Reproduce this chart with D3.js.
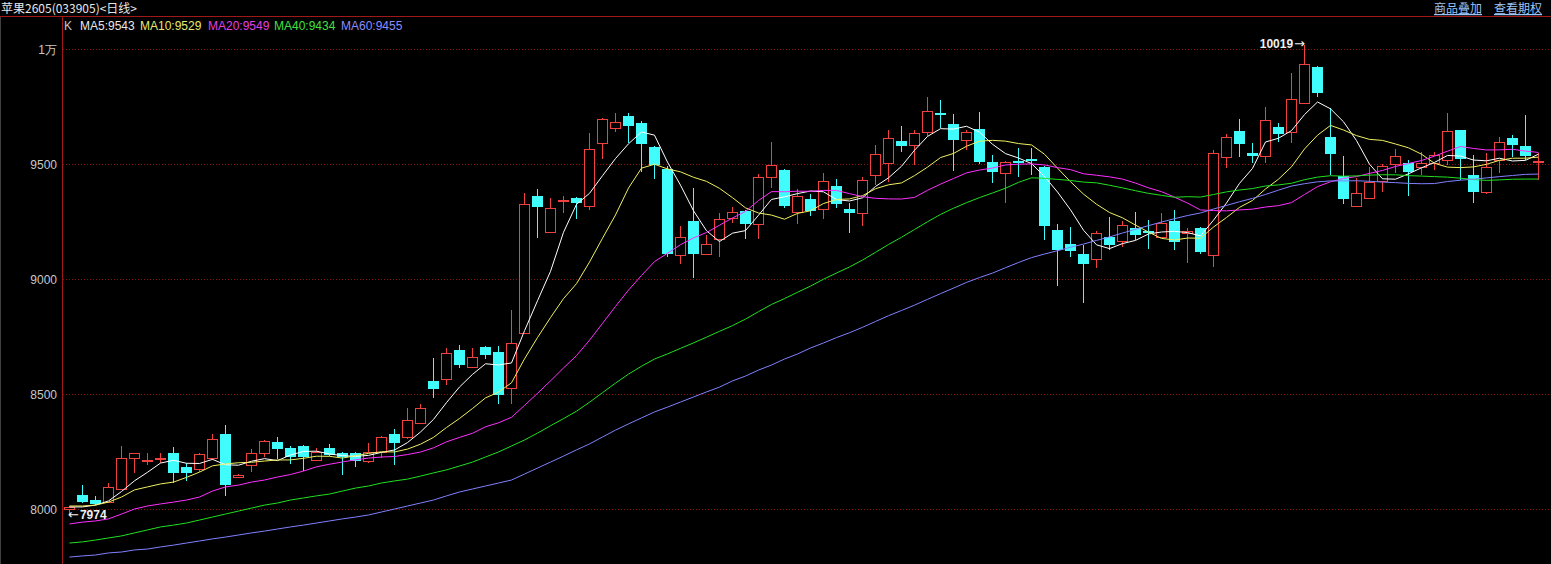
<!DOCTYPE html>
<html><head><meta charset="utf-8">
<script src="https://cdn.jsdelivr.net/npm/d3@7"></script>
<style>
html,body{margin:0;padding:0;background:#000;overflow:hidden}
svg{display:block}
</style></head><body>
<svg id="c" width="1551" height="564"></svg>
<script>
// ---- data ----
const opens  = [8000,8061,8040,8030,8087,8222,8210,8220,8243,8183,8174,8222,8326,8139,8191,8243,8291,8265,8274,8213,8265,8243,8243,8209,8248,8326,8313,8374,8557,8565,8691,8617,8704,8683,8526,8765,9361,9204,9340,9352,9317,9591,9657,9709,9678,9574,9478,9104,9252,9109,9174,9265,9296,9239,9443,9474,9291,9348,9304,9404,9304,9287,9452,9504,9600,9583,9639,9722,9674,9604,9652,9509,9461,9513,9522,9487,9213,9152,9109,9087,9183,9165,9222,9210,9183,9252,9200,9222,9104,9530,9643,9548,9535,9661,9639,9765,9922,9617,9448,9317,9352,9426,9500,9504,9487,9504,9517,9648,9452,9378,9517,9613,9578,9510];
const highs  = [8012,8104,8057,8113,8274,8245,8243,8243,8270,8200,8245,8326,8365,8152,8261,8300,8313,8274,8278,8265,8283,8248,8250,8287,8316,8348,8439,8457,8657,8700,8713,8700,8708,8709,8865,9374,9391,9352,9361,9355,9635,9700,9722,9722,9685,9580,9490,9230,9396,9191,9287,9313,9300,9457,9596,9480,9391,9370,9461,9435,9330,9443,9583,9648,9665,9648,9791,9780,9717,9648,9726,9539,9515,9570,9570,9490,9239,9226,9148,9210,9270,9252,9291,9257,9287,9300,9222,9226,9561,9630,9696,9591,9748,9678,9896,10019,9925,9743,9535,9439,9487,9500,9565,9517,9552,9552,9722,9650,9539,9548,9617,9626,9713,9548];
const lows   = [7974,8026,8018,8026,8085,8157,8191,8200,8113,8122,8161,8213,8057,8135,8161,8226,8217,8196,8165,8210,8230,8148,8183,8200,8222,8191,8305,8370,8483,8539,8613,8613,8652,8457,8457,8760,9178,9200,9287,9261,9300,9522,9639,9591,9465,9435,9096,9065,9004,9105,9096,9243,9174,9174,9396,9309,9239,9274,9261,9309,9200,9230,9409,9422,9552,9496,9622,9657,9470,9561,9500,9417,9330,9443,9452,9170,8970,9096,8896,9048,9126,9139,9170,9130,9180,9126,9070,9109,9052,9483,9530,9504,9504,9596,9591,9760,9790,9452,9326,9313,9348,9378,9461,9361,9452,9474,9496,9430,9330,9370,9461,9530,9517,9430];
const closes = [8010,8030,8022,8096,8222,8243,8215,8222,8157,8157,8239,8304,8104,8148,8243,8296,8261,8226,8226,8248,8235,8226,8209,8248,8313,8287,8387,8439,8522,8678,8626,8661,8670,8496,8722,9326,9313,9309,9345,9330,9565,9696,9683,9665,9587,9496,9109,9183,9109,9152,9261,9291,9239,9443,9496,9317,9361,9296,9426,9326,9287,9430,9543,9613,9578,9635,9730,9712,9604,9639,9509,9465,9509,9508,9518,9230,9126,9122,9065,9200,9148,9235,9191,9205,9243,9161,9210,9117,9548,9617,9587,9535,9691,9630,9783,9935,9809,9543,9348,9374,9422,9491,9535,9465,9504,9539,9643,9522,9378,9487,9596,9583,9535,9513];

// moving-average values for the first bars, whose windows start before the visible range
const ma5Lead  = [8009,8009,8017,8035];
const ma10Lead = [8013,8013,8017,8030,8052,8083,8096,8109,8117];
const ma20Lead = [7935,7943,7948,7957,7978,8000,8013,8022,8030,8039,8052,8078,8096,8104,8117,8126,8139,8150,8165];
const ma40Lead = [7852,7857,7865,7874,7883,7896,7909,7922,7930,7939,7952,7965,7978,7991,8004,8017,8026,8039,8048,8057,8065,8078,8091,8100,8113,8122,8130,8143,8157,8170,8187,8204,8226,8248,8274,8300,8330,8362,8393];
const ma60Lead = [7791,7796,7800,7809,7813,7822,7826,7835,7843,7852,7861,7870,7878,7887,7896,7904,7913,7922,7930,7939,7948,7957,7965,7974,7987,8000,8013,8026,8039,8057,8074,8087,8100,8113,8126,8152,8178,8204,8230,8257,8283,8313,8343,8370,8396,8422,8443,8465,8487,8509,8530,8557,8578,8604,8626,8652,8674,8700,8722];

const maPeriods = [5,10,20,40,60];
const maNames   = ["MA5","MA10","MA20","MA40","MA60"];
const legendValues = [9543,9529,9549,9434,9455];
const maColors  = ["#ffffff","#f0f060","#ff30ff","#20e020","#8080ff"];
const maLabelColors = ["#e8e8e8","#e8e870","#e040e0","#40e040","#8c8cff"];
const maLeads   = [ma5Lead,ma10Lead,ma20Lead,ma40Lead,ma60Lead];

const yTicks = [8000,8500,9000,9500,10000];
const yTickLabels = ["8000","8500","9000","9500","1万"];

const title = "苹果2605(033905)<日线>";
const links = ["商品叠加","查看期权"];

// ---- chart ----
const W = 1551, H = 564;
const svg = d3.select("#c");
svg.append("rect").attr("width",W).attr("height",H).attr("fill","#000");

const n = closes.length;
const x = d3.scaleBand().domain(d3.range(n)).range([63, 63 + 13*n]);
const px = i => x(i) + 6;          // pixel column of the candle centre
const y = d3.scaleLinear().domain([8000,10000]).range([509,49]);

function mavg(p, lead){
  return closes.map((c,i)=> i < p-1 ? lead[i] : d3.mean(closes.slice(i-p+1,i+1)));
}
const maSeries = maPeriods.map((p,k)=>mavg(p, maLeads[k]));

// borders
svg.append("line").attr("x1",0).attr("x2",W).attr("y1",16.5).attr("y2",16.5).attr("stroke","#a01818");
svg.append("line").attr("x1",62.5).attr("x2",62.5).attr("y1",16).attr("y2",H).attr("stroke","#a01818");
svg.append("line").attr("x1",0.5).attr("x2",0.5).attr("y1",17).attr("y2",H).attr("stroke","#404040");

// title
svg.append("text").attr("x",1).attr("y",13).attr("fill","#e8e8e8")
  .attr("font-family","'Noto Sans CJK SC','Liberation Sans',sans-serif").attr("font-size",12).text(title);
svg.selectAll("text.lnk").data(links).join("text").attr("class","lnk")
  .attr("x",(d,i)=>[1434,1494][i]).attr("y",13).attr("fill","#9cc4f4")
  .attr("font-family","'Noto Sans CJK SC',sans-serif").attr("font-size",12)
  .attr("text-decoration","underline").text(d=>d);

// grid & y axis
const yAxis = d3.axisLeft(y).tickValues(yTicks).tickFormat((d,i)=>yTickLabels[i]).tickSize(0).tickPadding(5);
const ga = svg.append("g").attr("transform","translate(62,0)").call(yAxis);
ga.select(".domain").remove();
ga.selectAll("text").attr("fill","#c8c8c8").attr("font-family","'Liberation Sans',Arial,sans-serif").attr("font-size",12).attr("dy","0.35em");
svg.selectAll("line.grid").data(yTicks).join("line").attr("class","grid")
  .attr("x1",63).attr("x2",W).attr("y1",d=>Math.round(y(d))+0.5).attr("y2",d=>Math.round(y(d))+0.5)
  .attr("stroke","#8c1010").attr("stroke-dasharray","1,2");

// candles
const up = "#f04040", dn = "#40fcfc";
const g = svg.append("g");
closes.forEach((c,i)=>{
  const o = opens[i], hi = highs[i], lo = lows[i];
  const isUp = c >= o;
  const col = isUp ? up : dn;
  const p = px(i), xc = p + 0.5;
  const top = Math.round(y(Math.max(o,c))), bot = Math.round(y(Math.min(o,c)));
  if (isUp){
    g.append("line").attr("x1",xc).attr("x2",xc).attr("y1",Math.round(y(hi))).attr("y2",top).attr("stroke",col);
    g.append("line").attr("x1",xc).attr("x2",xc).attr("y1",bot).attr("y2",Math.round(y(lo))).attr("stroke",col);
    if (bot - top < 1.5){
      g.append("rect").attr("x",p-5).attr("y",top).attr("width",11).attr("height",2).attr("fill",col);
    } else {
      g.append("rect").attr("x",p-4.5).attr("y",top+0.5).attr("width",10).attr("height",bot-top).attr("fill","#000").attr("stroke",col);
    }
  } else {
    g.append("line").attr("x1",xc).attr("x2",xc).attr("y1",Math.round(y(hi))).attr("y2",Math.round(y(lo))).attr("stroke",col);
    g.append("rect").attr("x",p-5).attr("y",top).attr("width",11).attr("height",Math.max(2,bot-top)).attr("fill",col);
  }
});

// moving averages
maSeries.forEach((s,k)=>{
  svg.append("path").datum(s).attr("fill","none").attr("stroke",maColors[k]).attr("stroke-width",1)
    .attr("d", d3.line().x((d,i)=>px(i)+0.5).y(d=>y(d)));
});

// legend
const legendX = [80,140,208,274,341];
const lgf = "'Liberation Sans',Arial,sans-serif";
svg.append("text").attr("x",64).attr("y",30).attr("fill","#c8c8c8").attr("font-family",lgf).attr("font-size",12).text("K");
maNames.forEach((nm,k)=>{
  svg.append("text").attr("x",legendX[k]).attr("y",30).attr("fill",maLabelColors[k])
    .attr("font-family",lgf).attr("font-size",12).text(nm+":"+legendValues[k]);
});

// extreme annotations
const iMax = d3.maxIndex(highs), iMin = d3.minIndex(lows);
const tMax = svg.append("text").attr("x",px(iMax)+1).attr("y",Math.round(y(highs[iMax]))+3).attr("text-anchor","end")
  .attr("fill","#f0f0f0").attr("font-family",lgf).attr("font-size",12);
tMax.append("tspan").attr("font-weight","bold").text(highs[iMax]);
tMax.append("tspan").attr("font-family","'DejaVu Sans',sans-serif").attr("font-size",13).attr("dx",1).text("→");
const tMin = svg.append("text").attr("x",px(iMin)-1).attr("y",Math.round(y(lows[iMin]))+4)
  .attr("fill","#f0f0f0").attr("font-family",lgf).attr("font-size",12);
tMin.append("tspan").attr("font-family","'DejaVu Sans',sans-serif").attr("font-size",13).text("←");
tMin.append("tspan").attr("font-weight","bold").attr("dx",1).text(lows[iMin]);
</script>
</body></html>
